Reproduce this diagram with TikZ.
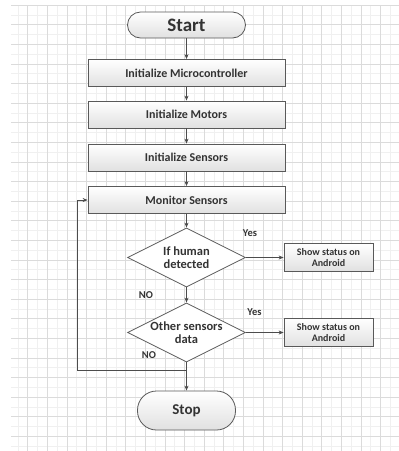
\documentclass[tikz,border=0pt]{standalone}
\usepackage{fontspec}
\setmainfont{Carlito}
\usetikzlibrary{positioning,shapes.geometric,arrows.meta}

\begin{document}
\begin{tikzpicture}[x=1pt,y=1pt,node distance=40pt,on grid,
    >={Stealth[length=5pt,width=4pt]},
    every node/.style={text=black!80,font=\bfseries},
    box/.style={draw=black!65,line width=0.8pt,top color=white,bottom color=black!12},
    process/.style={box,rectangle,minimum width=197pt,minimum height=27pt,font=\bfseries\fontsize{12}{14}\selectfont},
    startstop/.style={box,rectangle,minimum width=118pt,minimum height=26pt,rounded corners=13pt},
    decision/.style={draw=black!65,line width=0.8pt,fill=white,diamond,shape aspect=2,inner sep=0pt,
      minimum width=118pt,minimum height=59pt,align=center,font=\bfseries\fontsize{12.5}{13}\selectfont},
    output/.style={box,rectangle,minimum width=89pt,minimum height=28pt,align=center,
      font=\bfseries\fontsize{10}{11.5}\selectfont},
    answer/.style={font=\bfseries\fontsize{10.5}{12}\selectfont},
    line/.style={draw=black!70,line width=0.8pt}]
  % background and grid
  \useasboundingbox (0,0) rectangle (399,-451);
  \fill[white] (0,0) rectangle (399,-451);
  \begin{scope}[shift={(8,-5)}]
    \draw[black!6,line width=0.5pt,step=9.8] (3,0) grid (391,-446);
    \draw[black!14,line width=0.6pt,step=19.6] (3,0) grid (391,-446);
  \end{scope}
  % nodes
  \node[startstop,font=\bfseries\fontsize{19}{20}\selectfont] (start) at (186.5,-25) {Start};
  \node[process] (micro)    [below=48pt of start]     {Initialize Microcontroller};
  \node[process] (motors)   [below=41.5pt of micro]   {Initialize Motors};
  \node[process] (sensors)  [below=43pt of motors]    {Initialize Sensors};
  \node[process] (monitor)  [below=42.5pt of sensors] {Monitor Sensors};
  \node[decision] (human)   [below=57.5pt of monitor] {If human\\detected};
  \node[decision] (other)   [below=75pt of human]     {Other sensors\\data};
  \node[startstop,minimum width=98pt,minimum height=39pt,rounded corners=19pt,
    font=\bfseries\fontsize{15}{16}\selectfont] (stop) [below=78pt of other] {Stop};
  \node[output] (show1) [right=142pt of human] {Show status on\\Android};
  \node[output] (show2) [right=142pt of other] {Show status on\\Android};
  \coordinate (join) at ([yshift=-8pt]other.south);
  \coordinate (back) at ([xshift=-10pt]monitor.west);
  % labels
  \node[answer] (yes1) at (250,-233) {Yes};
  \node[answer] (no1)  at (146,-295) {NO};
  \node[answer] (yes2) at (254.5,-312) {Yes};
  \node[answer] (no2)  at (149,-355) {NO};
  % connectors
  \path[line,->]
    (start) edge (micro)
    (micro) edge (motors)
    (motors) edge (sensors)
    (sensors) edge (monitor)
    (monitor) edge (human)
    (human) edge (other)
    (human) edge (show1)
    (other) edge (show2)
    (other) edge (stop);
  \draw[line,->] (join) -| (back) -- (monitor.west);
\end{tikzpicture}
\end{document}
